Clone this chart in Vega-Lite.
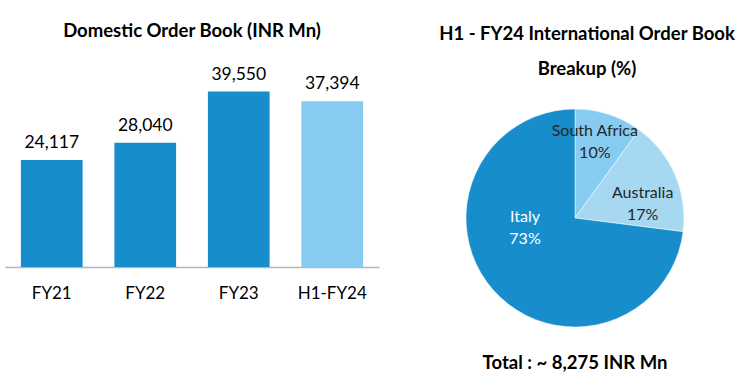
{
  "$schema": "https://vega.github.io/schema/vega-lite/v6.json",
  "background": "white",
  "padding": {"left": 5, "top": 22, "right": 0, "bottom": 0},
  "config": {"view": {"stroke": null}, "font": "Lato", "concat": {"spacing": 59}},
  "resolve": {"scale": {"color": "independent"}},
  "hconcat": [
    {
      "width": 374,
      "height": 158,
      "title": {"text": "Domestic Order Book (INR Mn)", "fontSize": 18.5, "fontWeight": "bold", "color": "#000000", "offset": 25, "anchor": "middle"},
      "data": {"values": [
        {"period": "FY21", "value": 24117, "kind": "Full year"},
        {"period": "FY22", "value": 28040, "kind": "Full year"},
        {"period": "FY23", "value": 39550, "kind": "Full year"},
        {"period": "H1-FY24", "value": 37394, "kind": "Half year"}
      ]},
      "encoding": {
        "x": {"field": "period", "type": "nominal", "sort": null,
              "scale": {"paddingInner": 0.34, "paddingOuter": 0.17},
              "axis": {"title": null, "labelAngle": 0, "ticks": false, "labelFontSize": 17, "labelColor": "#000000", "labelPadding": 18, "domainColor": "#b5b5b5", "domainWidth": 1.5}},
        "y": {"field": "value", "type": "quantitative", "scale": {"domain": [0, 35630], "nice": false}, "axis": null}
      },
      "layer": [
        {"mark": {"type": "bar"},
         "encoding": {"color": {"field": "kind", "type": "nominal", "scale": {"domain": ["Full year", "Half year"], "range": ["#188dcb", "#86cbf0"]}, "legend": null}}},
        {"mark": {"type": "text", "baseline": "alphabetic", "dy": -12, "fontSize": 17.5, "color": "#000000"},
         "encoding": {"text": {"field": "value", "type": "quantitative", "format": ","}}}
      ]
    },
    {
      "title": {"text": ["H1 - FY24 International Order Book", "Breakup (%)"], "fontSize": 18.5, "fontWeight": "bold", "color": "#000000", "lineHeight": 35, "offset": 30, "anchor": "middle", "dx": 12},
      "vconcat": [
        {
          "width": 218,
          "height": 218,
          "title": {"text": "Total : ~ 8,275  INR Mn", "orient": "bottom", "fontSize": 18.5, "fontWeight": "bold", "color": "#000000", "offset": 26, "anchor": "middle"},
          "data": {"values": [
            {"country": "South Africa", "share": 10, "label": "South Africa\n10%"},
            {"country": "Australia", "share": 17, "label": "Australia\n17%"},
            {"country": "Italy", "share": 73, "label": "Italy\n73%"}
          ]},
          "encoding": {
            "theta": {"field": "share", "type": "quantitative", "stack": true},
            "order": {"field": "share", "type": "quantitative", "sort": "ascending"}
          },
          "layer": [
            {"mark": {"type": "arc", "outerRadius": 109, "stroke": "white", "strokeWidth": 0.5},
             "encoding": {"color": {"field": "country", "type": "nominal", "scale": {"domain": ["Australia", "Italy", "South Africa"], "range": ["#a6d8f1", "#188dcb", "#86cbf0"]}, "legend": null}}},
            {"mark": {"type": "text", "radius": 89, "thetaOffset": -0.09, "fontSize": 16, "lineBreak": "\n", "lineHeight": 22, "color": "#262626"},
             "encoding": {"text": {"condition": {"test": "datum.country === 'South Africa'", "field": "label"}, "value": ""}}},
            {"mark": {"type": "text", "radius": 72, "thetaOffset": 0.06, "fontSize": 16, "lineBreak": "\n", "lineHeight": 22, "color": "#262626"},
             "encoding": {"text": {"condition": {"test": "datum.country === 'Australia'", "field": "label"}, "value": ""}}},
            {"mark": {"type": "text", "radius": 50, "thetaOffset": 0.75, "fontSize": 16, "lineBreak": "\n", "lineHeight": 22, "color": "#ffffff"},
             "encoding": {"text": {"condition": {"test": "datum.country === 'Italy'", "field": "label"}, "value": ""}}}
          ]
        }
      ]
    }
  ]
}
